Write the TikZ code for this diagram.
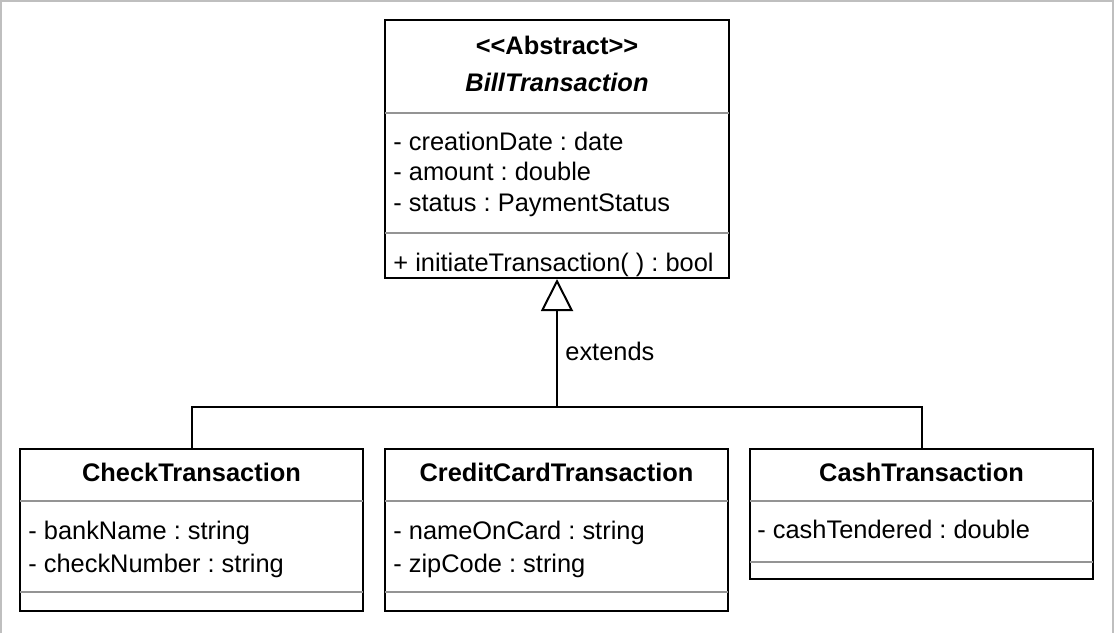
\documentclass[tikz,border=0pt]{standalone}
\usepackage{fontspec}
\setmainfont{Liberation Sans}
\newfontfamily\umlfont{Liberation Sans}
\usetikzlibrary{arrows.meta,fit}
\begin{document}
\frenchspacing
\begin{tikzpicture}[x=0.5pt,y=-0.5pt,
  box/.style={draw=black, line width=1pt, inner sep=0pt},
  sep/.style={draw=black!42, line width=1pt},
  txt/.style={inner sep=0pt, anchor=base west, font=\umlfont\frenchspacing\fontsize{12.7}{15}\selectfont},
  ttl/.style={inner sep=0pt, anchor=base, font=\umlfont\frenchspacing\fontsize{12.7}{15}\selectfont\bfseries},
  conn/.style={draw=black, line width=1pt},
  frame/.style={draw=black!25, line width=1pt}]
\useasboundingbox (0,0) rectangle (1114,633);
\draw[frame] (0.8,633) -- (0.8,0.8) -- (1112.8,0.8) -- (1112.8,633);

% BillTransaction
\node[box, fit={(385,20) (729,278)}] (bill) {};
\draw[sep] ([xshift=0.5pt]bill.west |- 0,113) -- ([xshift=-0.5pt]bill.east |- 0,113);
\draw[sep] ([xshift=0.5pt]bill.west |- 0,232.5) -- ([xshift=-0.5pt]bill.east |- 0,232.5);
\node[ttl] (billst) at (557,54.5) {<<Abstract>>};
\node[ttl, font=\umlfont\fontsize{12.7}{15}\selectfont\bfseries\itshape] (billname) at (557,91) {BillTransaction};
\node[txt] (b1) at (393,150.7) {- creationDate : date};
\node[txt] (b2) at (393,180.7) {- amount : double};
\node[txt] (b3) at (393,211) {- status : PaymentStatus};
\node[txt] (b4) at (393,271.5) {+ initiateTransaction( ) : bool};

% CheckTransaction
\node[box, fit={(20,449) (363,611)}] (check) {};
\draw[sep] ([xshift=0.5pt]check.west |- 0,501) -- ([xshift=-0.5pt]check.east |- 0,501);
\draw[sep] ([xshift=0.5pt]check.west |- 0,592) -- ([xshift=-0.5pt]check.east |- 0,592);
\node[ttl] (checkname) at (191.5,481) {CheckTransaction};
\node[txt] (c1) at (28,539) {- bankName : string};
\node[txt] (c2) at (28,572.5) {- checkNumber : string};

% CreditCardTransaction
\node[box, fit={(385,449) (728,611)}] (credit) {};
\draw[sep] ([xshift=0.5pt]credit.west |- 0,501) -- ([xshift=-0.5pt]credit.east |- 0,501);
\draw[sep] ([xshift=0.5pt]credit.west |- 0,592) -- ([xshift=-0.5pt]credit.east |- 0,592);
\node[ttl] (creditname) at (556.5,481) {CreditCardTransaction};
\node[txt] (r1) at (393,539) {- nameOnCard : string};
\node[txt] (r2) at (393,572.5) {- zipCode : string};

% CashTransaction
\node[box, fit={(750,449) (1093,579)}] (cash) {};
\draw[sep] ([xshift=0.5pt]cash.west |- 0,501) -- ([xshift=-0.5pt]cash.east |- 0,501);
\draw[sep] ([xshift=0.5pt]cash.west |- 0,562) -- ([xshift=-0.5pt]cash.east |- 0,562);
\node[ttl] (cashname) at (921.5,481) {CashTransaction};
\node[txt] (h1) at (757,538.5) {- cashTendered : double};

% connectors
\coordinate (j) at (557,406.5);
\draw[conn] (check.north) |- (j) -| (cash.north);
\draw[conn, -{Triangle[open, width=16pt, length=16pt]}] (j) -- (bill.south);
\node[txt] (ext) at (565,360.7) {extends};
\end{tikzpicture}
\end{document}
